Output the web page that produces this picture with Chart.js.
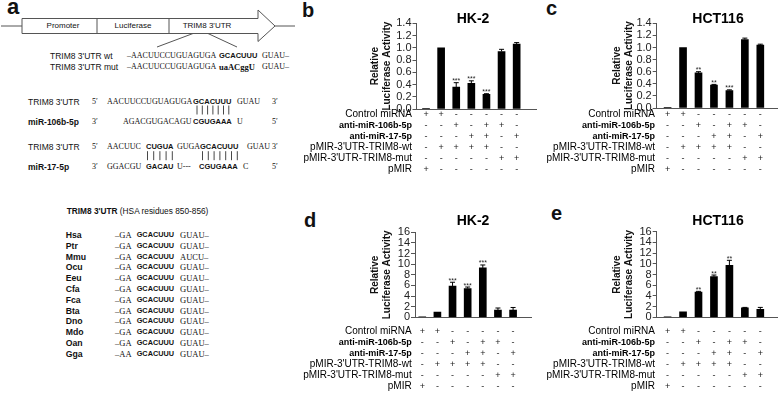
<!DOCTYPE html>
<html>
<head>
<meta charset="utf-8">
<script src="https://cdn.jsdelivr.net/npm/chart.js@4.4.1/dist/chart.umd.min.js"></script>
<style>
body { margin:0; background:#fff; }
#page { position:relative; width:778px; height:398px; overflow:hidden; font-family:Arial, "Liberation Sans", sans-serif; color:#111; }
.t { position:absolute; white-space:nowrap; line-height:10px; }
.ctr { transform:translateX(-50%); font-size:8px; }
.lab { font-size:8.5px; }
.labb { font-size:8.5px; font-weight:bold; }
.seq { font-family:"Liberation Serif", "Times New Roman", serif; font-size:8px; }
.core { font-size:7.5px; font-weight:bold; }
.mut { font-family:"Liberation Serif", "Times New Roman", serif; font-size:8.5px; font-weight:bold; }
.letter { position:absolute; font-weight:bold; font-size:20px; line-height:20px; }
canvas { position:absolute; }
</style>
</head>
<body>
<div id="page">

<div class="letter" style="left:7px;top:-4px;font-size:22px;line-height:22px">a</div>
<div class="letter" style="left:302px;top:0px">b</div>
<div class="letter" style="left:546px;top:-2px">c</div>
<div class="letter" style="left:304px;top:210px">d</div>
<div class="letter" style="left:551px;top:203px">e</div>

<svg style="position:absolute;left:0;top:0" width="300" height="170">
  <line x1="1" y1="26" x2="22" y2="26" stroke="#555"/>
  <polygon points="22,18.5 258,18.5 258,10 275,26 258,41.5 258,33.5 22,33.5" fill="#fff" stroke="#555"/>
  <line x1="97" y1="18.5" x2="97" y2="33.5" stroke="#555"/>
  <line x1="169" y1="18.5" x2="169" y2="33.5" stroke="#555"/>
  <line x1="275" y1="26" x2="295" y2="26" stroke="#555"/>
  <line x1="193" y1="33.5" x2="157" y2="47" stroke="#555"/>
  <line x1="208" y1="33.5" x2="237" y2="47" stroke="#555"/>
  <g id="pairs" stroke="#333" stroke-width="0.9"></g>
</svg>

<div class="t ctr" style="left:63px;top:21px">Promoter</div>
<div class="t ctr" style="left:133px;top:21px">Luciferase</div>
<div class="t ctr" style="left:207px;top:21px">TRIM8 3'UTR</div>

<div class="t lab" style="left:50px;top:51px">TRIM8 3'UTR wt</div>
<div class="t seq" style="left:127px;top:51px">–AACUUCCUGUAGUGA</div>
<div class="t core" style="left:219px;top:51px">GCACUUU</div>
<div class="t seq" style="left:262px;top:51px">GUAU–</div>

<div class="t lab" style="left:50px;top:61.7px">TRIM8 3'UTR mut</div>
<div class="t seq" style="left:127px;top:61.7px">–AACUUCCUGUAGUGA</div>
<div class="t mut" style="left:219px;top:61.7px">uaACggU</div>
<div class="t seq" style="left:262px;top:61.7px">GUAU–</div>

<div class="t lab" style="left:28px;top:96.7px">TRIM8 3'UTR</div>
<div class="t seq" style="left:92px;top:96.7px">5′</div>
<div class="t seq" style="left:107px;top:96.7px">AACUUCCUGUAGUGA</div>
<div class="t core" style="left:193px;top:96.7px">GCACUUU</div>
<div class="t seq" style="left:237px;top:96.7px">GUAU</div>
<div class="t seq" style="left:272px;top:96.7px">3′</div>

<div class="t labb" style="left:28px;top:116.7px">miR-106b-5p</div>
<div class="t seq" style="left:92px;top:116.7px">3′</div>
<div class="t seq" style="left:123px;top:116.7px">AGACGUGACAGU</div>
<div class="t core" style="left:193px;top:116.7px">CGUGAAA</div>
<div class="t seq" style="left:237px;top:116.7px">U</div>
<div class="t seq" style="left:272px;top:116.7px">5′</div>

<div class="t lab" style="left:28px;top:141.7px">TRIM8 3'UTR</div>
<div class="t seq" style="left:92px;top:141.7px">5′</div>
<div class="t seq" style="left:107px;top:141.7px">AACUUC</div>
<div class="t core" style="left:146px;top:141.7px">CUGUA</div>
<div class="t seq" style="left:177px;top:141.7px">GUGA</div>
<div class="t core" style="left:200px;top:141.7px">GCACUUU</div>
<div class="t seq" style="left:247px;top:141.7px">GUAU</div>
<div class="t seq" style="left:272px;top:141.7px">3′</div>

<div class="t labb" style="left:28px;top:161.7px">miR-17-5p</div>
<div class="t seq" style="left:92px;top:161.7px">3′</div>
<div class="t seq" style="left:107px;top:161.7px">GGACGU</div>
<div class="t core" style="left:146px;top:161.7px">GACAU</div>
<div class="t seq" style="left:177px;top:161.7px">U---</div>
<div class="t core" style="left:199px;top:161.7px">CGUGAAA</div>
<div class="t seq" style="left:243px;top:161.7px">C</div>
<div class="t seq" style="left:272px;top:161.7px">5′</div>

<div class="t" style="left:66.7px;top:205.7px;font-size:8.3px"><b>TRIM8 3'UTR</b> (HSA residues 850-856)</div>
<div id="species"></div>

<canvas id="hk2Knock" width="240" height="190" style="left:300px;top:0px"></canvas>
<canvas id="hctKnock" width="238" height="190" style="left:540px;top:0px"></canvas>
<canvas id="hk2Over" width="240" height="195" style="left:300px;top:200px"></canvas>
<canvas id="hctOver" width="238" height="195" style="left:540px;top:200px"></canvas>

</div>
<script>
// lanes of every bar panel and the +/- design under them
const lanes = [0, 1, 2, 3, 4, 5, 6];

const rowNames = [
"Control miRNA",
"anti-miR-106b-5p",
"anti-miR-17-5p",
"pMIR-3'UTR-TRIM8-wt",
"pMIR-3'UTR-TRIM8-mut",
"pMIR"
];

const boldRows = [false, true, true, false, false, false];

const design = [
["+", "+", "-", "-", "-", "-", "-"],
["-", "-", "+", "-", "+", "+", "-"],
["-", "-", "-", "+", "+", "-", "+"],
["-", "+", "+", "+", "+", "-", "-"],
["-", "-", "-", "-", "-", "+", "+"],
["+", "-", "-", "-", "-", "-", "-"]
];

const smallTicks = [0, 0.2, 0.4, 0.6, 0.8, 1.0, 1.2, 1.4];
const smallTickLabels = ["0.0", "0.2", "0.4", "0.6", "0.8", "1.0", "1.2", "1.4"];
const bigTicks = [0, 2, 4, 6, 8, 10, 12, 14, 16];
const bigTickLabels = ["0", "2", "4", "6", "8", "10", "12", "14", "16"];

// b  HK-2
const hk2Knock = [0.01, 1.00, 0.36, 0.42, 0.24, 0.94, 1.06];
const hk2KnockErr = [0, 0, 0.07, 0.04, 0.01, 0.035, 0.025];
const hk2KnockStars = ["", "", "***", "***", "***", "", ""];

// c  HCT116
const hctKnock = [0.01, 1.00, 0.58, 0.38, 0.29, 1.13, 1.04];
const hctKnockErr = [0, 0, 0.02, 0.01, 0.01, 0.025, 0.015];
const hctKnockStars = ["", "", "**", "**", "***", "", ""];

// d  HK-2
const hk2Over = [0.1, 1.0, 5.9, 5.4, 9.3, 1.35, 1.35];
const hk2OverErr = [0, 0, 0.7, 0.3, 0.55, 0.4, 0.5];
const hk2OverStars = ["", "", "***", "***", "***", "", ""];

// e  HCT116
const hctOver = [0.1, 1.0, 4.7, 7.6, 9.7, 1.75, 1.5];
const hctOverErr = [0, 0, 0.15, 0.3, 0.95, 0.1, 0.35];
const hctOverStars = ["", "", "**", "**", "**", "", ""];

// conservation table of panel a
const species = ["Hsa", "Ptr", "Mmu", "Ocu", "Eeu", "Cfa", "Fca", "Bta", "Dno", "Mdo", "Oan", "Gga"];
const speciesLeft = ["–GA", "–GA", "–GA", "–GA", "–GA", "–GA", "–GA", "–GA", "–GA", "–GA", "–GA", "–AA"];
const speciesRight = ["GUAU–", "GUAU–", "AUCU–", "GUAU–", "GUAU–", "GUAU–", "GUAU–", "GUAU–", "GUAU–", "GUAU–", "GUAU–", "GUAU–"];

Chart.defaults.font.family = "Arial, 'Liberation Sans', sans-serif";
Chart.defaults.color = "#111";

function fillPanelA(){

    let box = document.getElementById("species");

    species.forEach((name, i) => {

        let top = 230 + 10.8 * i;

        box.innerHTML +=
        `<div class="t" style="left:65.7px;top:${top}px;font-size:8.7px;font-weight:bold">${name}</div>
        <div class="t seq" style="left:115px;top:${top}px;font-size:8.5px">${speciesLeft[i]}</div>
        <div class="t core" style="left:136.7px;top:${top}px;font-size:7.3px">GCACUUU</div>
        <div class="t seq" style="left:180px;top:${top}px;font-size:8.5px">${speciesRight[i]}</div>`;

    });

    let g = document.getElementById("pairs");
    let svgLines = "";

    function pairs(x0, step, n, y){
        for(let k = 0; k < n; k++){
            let x = x0 + step * k;
            svgLines += `<line x1="${x}" y1="${y - 4.5}" x2="${x}" y2="${y + 4.5}"/>`;
        }
    }

    pairs(197, 5.3, 7, 110);
    pairs(147.5, 6.2, 5, 155.7);
    pairs(202.5, 5.8, 7, 155.7);

    g.innerHTML = svgLines;

}

function extras(p){

    return {

        id: "extras_" + p.id,

        afterDatasetsDraw(chart){

            let ctx = chart.ctx;
            let xs = chart.scales.x;
            let ys = chart.scales.y;

            ctx.save();
            ctx.strokeStyle = "#000";
            ctx.lineWidth = 1;

            lanes.forEach(i => {

                let px = xs.getPixelForValue(i);

                if(p.errors[i] > 0){

                    let base = ys.getPixelForValue(p.values[i]);
                    let top = ys.getPixelForValue(p.values[i] + p.errors[i]);

                    ctx.beginPath();
                    ctx.moveTo(px, base);
                    ctx.lineTo(px, top);
                    ctx.moveTo(px - 2.5, top);
                    ctx.lineTo(px + 2.5, top);
                    ctx.stroke();

                }

                if(p.stars[i]){

                    let top = ys.getPixelForValue(p.values[i] + p.errors[i]);

                    ctx.fillStyle = "#222";
                    ctx.font = "7px Arial, 'Liberation Sans', sans-serif";
                    ctx.textAlign = "center";
                    ctx.textBaseline = "alphabetic";
                    ctx.fillText(p.stars[i], px, top + 0.5);

                }

            });

            ctx.restore();

        },

        afterDraw(chart){

            let ctx = chart.ctx;
            let xs = chart.scales.x;

            ctx.save();

            ctx.fillStyle = "#000";
            ctx.textAlign = "center";
            ctx.textBaseline = "middle";
            ctx.font = "bold 14px Arial, 'Liberation Sans', sans-serif";
            ctx.fillText(p.title, p.titleX, p.titleY);

            ctx.textAlign = "right";

            rowNames.forEach((name, i) => {

                ctx.font = boldRows[i]
                ? "bold 9px Arial, 'Liberation Sans', sans-serif"
                : "10px Arial, 'Liberation Sans', sans-serif";

                ctx.fillText(name, p.labelX, xs.top + p.rowPad + 5.5 + 11 * i);

            });

            ctx.restore();

        }

    };

}

function drawPanel(p){

    return new Chart(

    document.getElementById(p.id),

    {

        type: "bar",

        data: {

            datasets: [{

                data: lanes.map(i => ({x: i, y: p.values[i]})),

                backgroundColor: "#000",

                barThickness: 7

            }]

        },

        options: {

            responsive: false,

            animation: false,

            layout: {
                padding: {left: p.padLeft, right: p.padRight, top: p.padTop, bottom: 0}
            },

            plugins: {
                legend: {display: false},
                tooltip: {enabled: false}
            },

            scales: {

                x: {

                    type: "linear",
                    min: p.xMin,
                    max: p.xMax,
                    offset: false,

                    grid: {display: false, drawTicks: false, tickLength: 0, offset: false},

                    border: {color: "#555", width: 1},

                    afterBuildTicks: s => { s.ticks = lanes.map(v => ({value: v})); },

                    afterFit: s => { s.height = p.xHeight; },

                    ticks: {
                        autoSkip: false,
                        maxRotation: 0,
                        minRotation: 0,
                        padding: p.rowPad,
                        color: "#222",
                        font: {size: 9, lineHeight: 11 / 9},
                        callback: v => design.map(r => r[v])
                    }

                },

                y: {

                    min: 0,
                    max: p.ticks[p.ticks.length - 1],

                    grid: {display: true, drawOnChartArea: false, drawTicks: true, tickLength: 4, color: "#555"},

                    border: {color: "#555", width: 1},

                    afterBuildTicks: s => { s.ticks = p.ticks.map(v => ({value: v})); },

                    afterFit: s => { s.width = p.yWidth; },

                    ticks: {
                        autoSkip: false,
                        padding: 1,
                        color: "#222",
                        font: {size: 11},
                        callback: (v, i) => p.tickLabels[i]
                    },

                    title: {
                        display: true,
                        text: ["Relative", "Luciferase Activity"],
                        color: "#111",
                        padding: 0,
                        font: {size: 10, weight: "bold", lineHeight: 1.2}
                    }

                }

            }

        },

        plugins: [extras(p)]

    });

}

fillPanelA();

drawPanel({
    id: "hk2Knock", title: "HK-2", titleX: 173, titleY: 19,
    values: hk2Knock, errors: hk2KnockErr, stars: hk2KnockStars,
    ticks: smallTicks, tickLabels: smallTickLabels,
    padLeft: 69, yWidth: 47.5, padRight: 4, padTop: 23.3, xHeight: 81,
    xMin: -0.63, xMax: 7.28, rowPad: 0, labelX: 112
});

drawPanel({
    id: "hctKnock", title: "HCT116", titleX: 178, titleY: 19,
    values: hctKnock, errors: hctKnockErr, stars: hctKnockStars,
    ticks: smallTicks, tickLabels: smallTickLabels,
    padLeft: 71, yWidth: 45.7, padRight: 1, padTop: 23.3, xHeight: 82,
    xMin: -0.705, xMax: 7.08, rowPad: 0.8, labelX: 115
});

drawPanel({
    id: "hk2Over", title: "HK-2", titleX: 173, titleY: 21,
    values: hk2Over, errors: hk2OverErr, stars: hk2OverStars,
    ticks: bigTicks, tickLabels: bigTickLabels,
    padLeft: 69, yWidth: 46, padRight: 8.3, padTop: 32.3, xHeight: 77.7,
    xMin: -0.48, xMax: 7.23, rowPad: 8.9, labelX: 111.7
});

drawPanel({
    id: "hctOver", title: "HCT116", titleX: 178, titleY: 21,
    values: hctOver, errors: hctOverErr, stars: hctOverStars,
    ticks: bigTicks, tickLabels: bigTickLabels,
    padLeft: 71, yWidth: 45.7, padRight: 1, padTop: 31.7, xHeight: 77.7,
    xMin: -0.705, xMax: 7.08, rowPad: 8.9, labelX: 115
});
</script>
</body>
</html>
